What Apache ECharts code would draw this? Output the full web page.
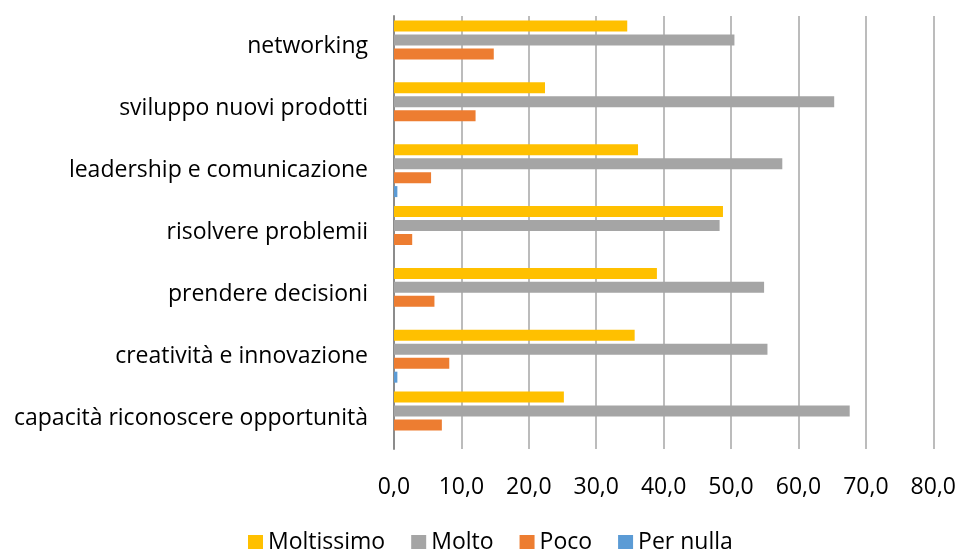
<!DOCTYPE html>
<html>
<head>
<meta charset="utf-8">
<script src="https://cdn.jsdelivr.net/npm/echarts@6/dist/echarts.min.js"></script>
<style>
  html, body { margin: 0; padding: 0; background: #fff; }
  #chart { width: 959px; height: 549px; }
</style>
</head>
<body>
<div id="chart"></div>
<script>
// categories top to bottom
var categories = [
  'networking',
  'sviluppo nuovi prodotti',
  'leadership e comunicazione',
  'risolvere problemii',
  'prendere decisioni',
  'creatività e innovazione',
  'capacità riconoscere opportunità'
]
var moltissimo = [34.6, 22.4, 36.2, 48.8, 39.0, 35.7, 25.2]
var molto = [50.5, 65.3, 57.6, 48.3, 54.9, 55.4, 67.6]
var poco = [14.8, 12.1, 5.5, 2.7, 6.0, 8.2, 7.1]
var perNulla = [0, 0, 0.5, 0, 0, 0.5, 0]
var xTicks = [0, 10, 20, 30, 40, 50, 60, 70, 80]

var font = 'Open Sans'
var fs = 23
var myChart = echarts.init(document.getElementById('chart'))

function mkSeries (name, data, color) {
  return {
    name: name,
    type: 'bar',
    data: data,
    barWidth: 11,
    barGap: '27%',
    itemStyle: { color: color }
  }
}

var option = {
  animation: false,
  grid: { left: 394, right: 25, top: 16, bottom: 100, containLabel: false },
  legend: {
    top: 526,
    left: 243,
    icon: 'rect',
    itemWidth: 15,
    itemHeight: 15,
    itemGap: 26,
    textStyle: { fontSize: fs, color: '#000', fontFamily: font }
  },
  xAxis: {
    type: 'value',
    min: xTicks[0],
    max: xTicks[xTicks.length - 1],
    interval: 10,
    axisLine: { show: false },
    axisTick: { show: false },
    splitLine: { lineStyle: { color: '#a6a6a6', width: 1.5 } },
    axisLabel: {
      margin: 27,
      fontSize: fs,
      color: '#000',
      fontFamily: font,
      formatter: function (v) { return v.toFixed(1).replace('.', ',') }
    }
  },
  yAxis: {
    type: 'category',
    data: categories,
    inverse: true,
    axisTick: { show: false },
    axisLine: { show: true, lineStyle: { color: '#8c8c8c', width: 2 } },
    axisLabel: { margin: 26, fontSize: fs, color: '#000', fontFamily: font }
  },
  series: [
    mkSeries('Moltissimo', moltissimo, '#ffc000'),
    mkSeries('Molto', molto, '#a5a5a5'),
    mkSeries('Poco', poco, '#ed7d31'),
    mkSeries('Per nulla', perNulla, '#5b9bd5')
  ]
}

myChart.setOption(option)
</script>
</body>
</html>
